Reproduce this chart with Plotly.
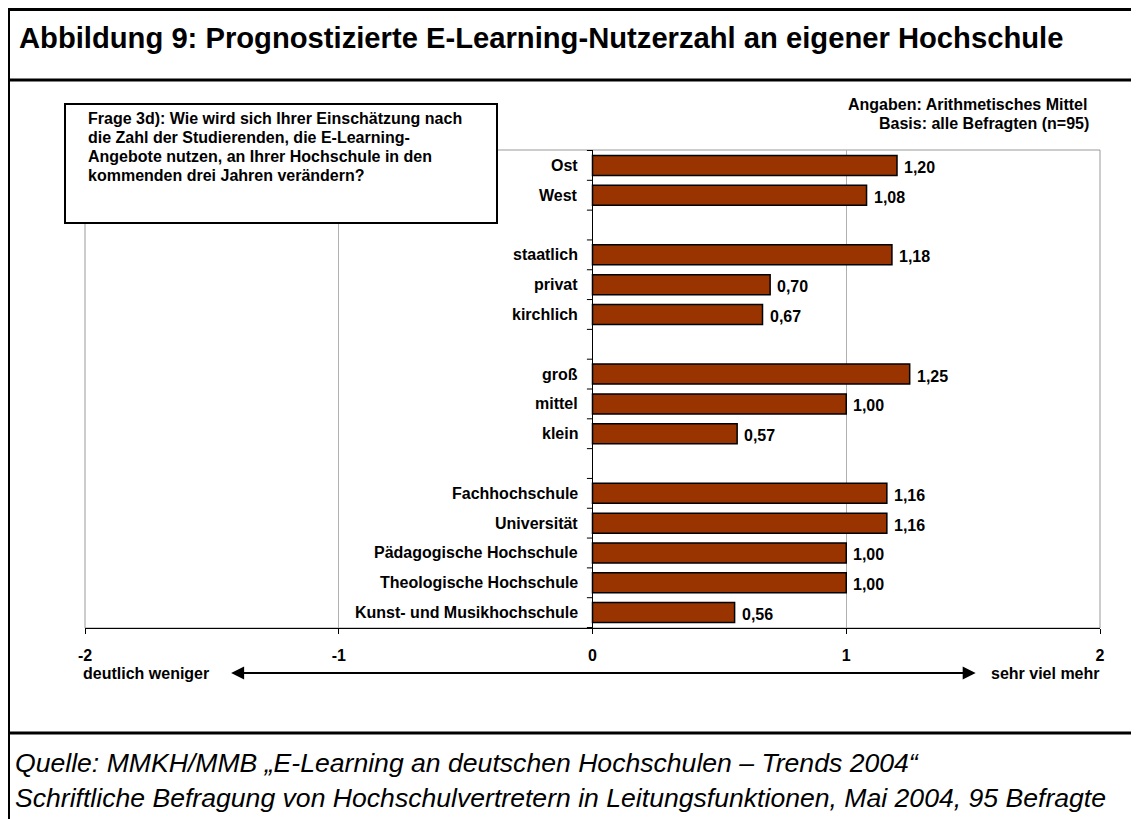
import plotly.graph_objects as go

categories = ["Ost", "West", " ", "staatlich", "privat", "kirchlich", "  ",
              "groß", "mittel", "klein", "   ",
              "Fachhochschule", "Universität", "Pädagogische Hochschule",
              "Theologische Hochschule", "Kunst- und Musikhochschule"]
values = [1.20, 1.08, None, 1.18, 0.70, 0.67, None,
          1.25, 1.00, 0.57, None,
          1.16, 1.16, 1.00, 1.00, 0.56]
x_tickvals = [-2, -1, 0, 1, 2]
x_ticktext = ["-2", "-1", "0", "1", "2"]
question_lines = ["Frage 3d): Wie wird sich Ihrer Einschätzung nach",
                  "die Zahl der Studierenden, die E-Learning-",
                  "Angebote nutzen, an Ihrer Hochschule in den",
                  "kommenden drei Jahren verändern?"]

OFF = 8  # page body margin
W, H = 1131, 811
L, R, T, B = 77, 39, 142, 191
PW, PH = W - L - R, H - T - B
FONT = "Liberation Sans, Arial, sans-serif"
BAR = "#993300"
FS = 16


def px(x):
    return (x - OFF - L) / PW


def py(y):
    return (H - B - (y - OFF)) / PH


bold = dict(family=FONT, size=FS, color="black", weight="bold")

fig = go.Figure()
fig.add_trace(go.Bar(
    y=categories, x=values, orientation="h",
    marker=dict(color=BAR, line=dict(color="black", width=1.5)),
    width=0.67, hoverinfo="skip",
))

shapes = []
annotations = []

shapes.append(dict(type="rect", xref="x domain", yref="y domain", x0=0, x1=1, y0=0, y1=1,
                   line=dict(color="#999999", width=1), layer="below"))
for k in range(len(categories) + 1):
    shapes.append(dict(type="line", xref="x", yref="y", x0=-0.022, x1=0,
                       y0=k - 0.5, y1=k - 0.5, line=dict(color="black", width=1)))
for c, v in zip(categories, values):
    if c.strip():
        annotations.append(dict(x=0, y=c, xref="x", yref="y", text=c, showarrow=False,
                                xanchor="right", xshift=-13, font=bold))
    if v is not None:
        annotations.append(dict(x=v, y=c, xref="x", yref="y",
                                text=f"{v:.2f}".replace(".", ","), showarrow=False,
                                xanchor="left", xshift=5, yshift=-2, font=bold))

# outer frame
for (x0, y0, x1, y1, w) in [(8, 9.5, 1150, 9.5, 3), (8, 80, 1150, 80, 3), (8, 733, 1150, 733, 3),
                            (9, 8, 9, 830, 2), (1137, 8, 1137, 830, 2)]:
    shapes.append(dict(type="line", xref="paper", yref="paper", x0=px(x0), x1=px(x1),
                       y0=py(y0), y1=py(y1), line=dict(color="black", width=w), layer="above"))

# question box
shapes.append(dict(type="rect", xref="paper", yref="paper", x0=px(65), x1=px(497),
                   y0=py(223), y1=py(104), line=dict(color="black", width=2),
                   fillcolor="white", layer="above"))
for i, line in enumerate(question_lines):
    annotations.append(dict(xref="paper", yref="paper", x=px(86), y=py(118 + 19 * i),
                            xanchor="left", yanchor="middle", align="left", showarrow=False,
                            text=line, font=bold))

annotations.append(dict(xref="paper", yref="paper", x=px(17), y=py(38), xanchor="left", yanchor="middle",
                        showarrow=False,
                        text="Abbildung 9: Prognostizierte E-Learning-Nutzerzahl an eigener Hochschule",
                        font=dict(family=FONT, size=29.2, color="black", weight="bold")))
annotations.append(dict(xref="paper", yref="paper", x=px(1089), y=py(105), xanchor="right", yanchor="middle",
                        showarrow=False, text="Angaben: Arithmetisches Mittel", font=bold))
annotations.append(dict(xref="paper", yref="paper", x=px(1091), y=py(124), xanchor="right", yanchor="middle",
                        showarrow=False, text="Basis: alle Befragten (n=95)", font=bold))
annotations.append(dict(xref="x", yref="paper", x=1.51, y=py(673), axref="x", ax=-1.43,
                        ayref="pixel", ay=0, showarrow=True, arrowhead=2, startarrowhead=2,
                        arrowside="end+start", arrowsize=1.3, startarrowsize=1.3,
                        arrowwidth=2, arrowcolor="black", text=""))
annotations.append(dict(xref="paper", yref="paper", x=px(81), y=py(673), xanchor="left", yanchor="middle",
                        showarrow=False, text="deutlich weniger", font=bold))
annotations.append(dict(xref="paper", yref="paper", x=px(989), y=py(673), xanchor="left", yanchor="middle",
                        showarrow=False, text="sehr viel mehr", font=bold))
annotations.append(dict(xref="paper", yref="paper", x=px(13), y=py(763), xanchor="left", yanchor="middle",
                        showarrow=False,
                        text="<i>Quelle: MMKH/MMB „E-Learning an deutschen Hochschulen – Trends 2004“</i>",
                        font=dict(family=FONT, size=26.6, color="black")))
annotations.append(dict(xref="paper", yref="paper", x=px(13), y=py(798), xanchor="left", yanchor="middle",
                        showarrow=False,
                        text="<i>Schriftliche Befragung von Hochschulvertretern in Leitungsfunktionen, Mai 2004, 95 Befragte</i>",
                        font=dict(family=FONT, size=26.6, color="black")))

fig.update_layout(
    width=W, height=H,
    margin=dict(l=L, r=R, t=T, b=B),
    paper_bgcolor="white", plot_bgcolor="white",
    showlegend=False,
    shapes=shapes, annotations=annotations,
    font=dict(family=FONT, size=FS, color="black"),
    xaxis=dict(range=[-2, 2], tickvals=x_tickvals, ticktext=x_ticktext,
               showgrid=True, gridcolor="#b0b0b0", gridwidth=1,
               zeroline=True, zerolinecolor="black", zerolinewidth=1,
               showline=True, linecolor="black", linewidth=1,
               ticks="outside", ticklen=5, tickcolor="black",
               ticklabelstandoff=8,
               tickfont=bold, fixedrange=True),
    yaxis=dict(type="category", categoryorder="array", categoryarray=categories,
               autorange="reversed", showticklabels=False, showgrid=False,
               zeroline=False, showline=False, ticks="", fixedrange=True),
)

fig.write_html("out.html")
